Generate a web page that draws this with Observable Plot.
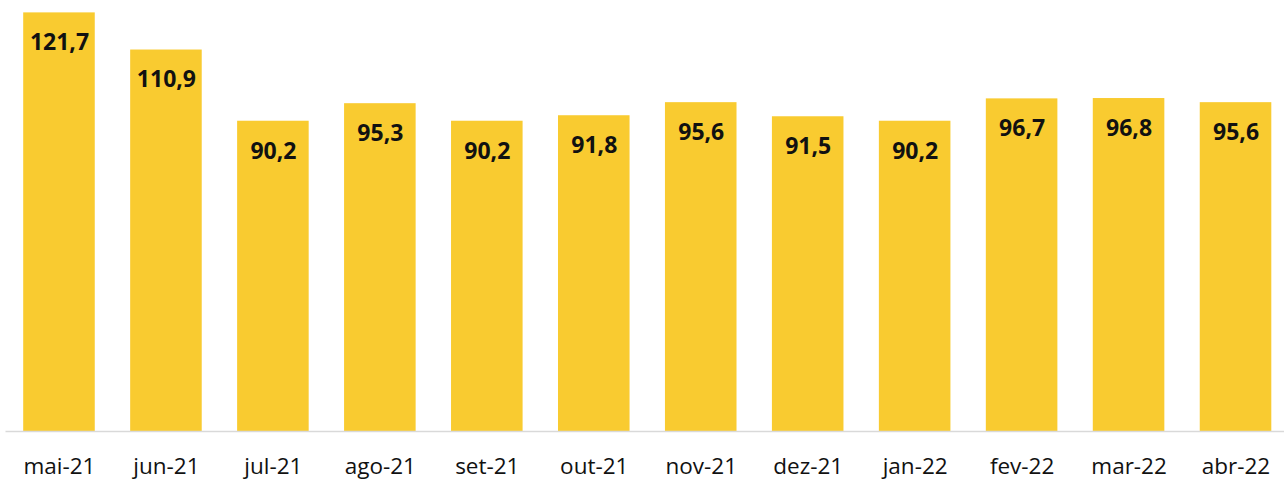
<!DOCTYPE html>
<html>
<head>
<meta charset="utf-8">
<script src="https://cdn.jsdelivr.net/npm/d3@7"></script>
<script src="https://cdn.jsdelivr.net/npm/@observablehq/plot@0.6"></script>
<style>
  html, body { margin: 0; padding: 0; background: #fff; }
  #chart svg { display: block; }
</style>
</head>
<body>
<div id="chart"></div>
<script>
const months = ["mai-21", "jun-21", "jul-21", "ago-21", "set-21", "out-21", "nov-21", "dez-21", "jan-22", "fev-22", "mar-22", "abr-22"];
const values = [121.7, 110.9, 90.2, 95.3, 90.2, 91.8, 95.6, 91.5, 90.2, 96.7, 96.8, 95.6];

const data = months.map((m, i) => ({month: m, value: values[i]}));
const fmt = v => v.toFixed(1).replace(".", ",");

const chart = Plot.plot({
  width: 1284,
  height: 480,
  marginTop: 0,
  marginBottom: 49,
  marginLeft: 5.5,
  marginRight: -5,
  style: {fontFamily: "'Open Sans', sans-serif", background: "#fff", color: "#000", overflow: "hidden"},
  x: {domain: months, padding: 0, round: false, label: null},
  y: {domain: [0, 125.3], axis: null},
  marks: [
    Plot.barY(data, {x: "month", y: "value", fill: "#F9CB30", insetLeft: 17.7, insetRight: 17.7}),
    Plot.ruleY([0], {stroke: "#d9d9d9", strokeWidth: 1.5}),
    Plot.text(data, {x: "month", y: "value", text: d => fmt(d.value), dy: 30, fontSize: 23, fontWeight: "bold", fill: "#111", lineAnchor: "middle"}),
    Plot.axisX({tickSize: 0, tickPadding: 27, fontSize: 22.5, fill: "#111", label: null})
  ]
});
document.getElementById("chart").appendChild(chart);
</script>
</body>
</html>
